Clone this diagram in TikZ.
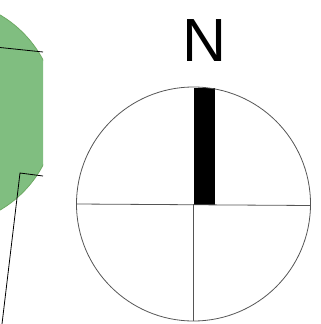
\documentclass[tikz,border=0pt]{standalone}
\usepackage{tikz}
\usepackage{fontspec}
\setmainfont{Liberation Sans}
\definecolor{leafgreen}{RGB}{128,190,128}
\definecolor{leafedge}{RGB}{110,170,100}
\definecolor{rimgray}{RGB}{85,85,85}

\begin{document}
\begin{tikzpicture}[x=1pt,y=-1pt]
  		\useasboundingbox (0,0) rectangle (321,324);
  		% crown of the tree, cut off at the left
  		\begin{scope}
  		\clip (-200,0) rectangle (43,324);
  		\filldraw[fill=leafgreen, draw=leafedge, line width=0.8pt] (-57,112.5) circle (113);
  		\end{scope}
		\draw[line width=0.8pt] (0,47.5) -- (43,52);
		\coordinate (k1) at (43,176);
		\coordinate (k2) at (20,173);
		\coordinate (k3) at (2,324);
		\draw[line width=0.8pt] (k1) -- (k2) -- (k3);
  		% compass
		\coordinate (c) at (193.5,204);
		\fill[black] (193.5,88) rectangle (215,205);
		\draw[rimgray, line width=0.8pt] (c) circle (117);
		\draw[rimgray, line width=0.8pt] (76.5,204) -- (310.5,205.5);
		\draw[rimgray, line width=0.8pt] (193.5,204) -- (193.5,321);
		\node (north) at (205,40.5) {\fontsize{61}{61}\selectfont N};
  	\end{tikzpicture}
\end{document}
